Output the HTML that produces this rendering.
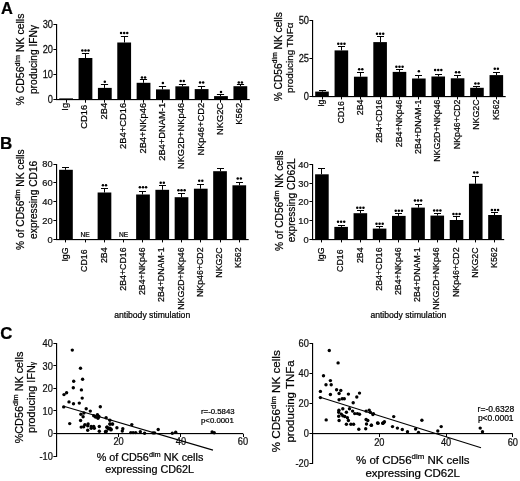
<!DOCTYPE html><html><head><meta charset="utf-8"><style>html,body{margin:0;padding:0;background:#fff;}svg{display:block;filter:grayscale(1) blur(0.35px);} text{stroke:#000;stroke-width:0.22px;}</style></head><body><svg width="520" height="481" viewBox="0 0 520 481" style="font-family:'Liberation Sans',sans-serif" fill="#000"><rect width="520" height="481" fill="#fff"/><text x="0.9" y="14.0" font-size="16.4" font-weight="bold">A</text><text x="0.1" y="148.8" font-size="17" font-weight="bold">B</text><text x="0.3" y="338.8" font-size="16.8" font-weight="bold">C</text><rect x="59.2" y="98.4" width="13.8" height="1.1"/><rect x="66" y="99.5" width="1" height="3.2"/><rect x="78.56" y="58" width="13.8" height="41.5"/><rect x="85" y="53" width="1" height="5"/><rect x="81.9" y="53" width="7.2" height="1"/><circle cx="82.36" cy="50.4" r="1.25"/><circle cx="85.46" cy="50.4" r="1.25"/><circle cx="88.56" cy="50.4" r="1.25"/><rect x="85" y="99.5" width="1" height="3.2"/><rect x="97.92" y="87.9" width="13.8" height="11.6"/><rect x="104" y="84" width="1" height="3.9"/><rect x="100.9" y="84" width="7.2" height="1"/><circle cx="104.82" cy="81.7" r="1.25"/><rect x="104" y="99.5" width="1" height="3.2"/><rect x="117.28" y="42.5" width="13.8" height="57"/><rect x="124" y="36" width="1" height="6.5"/><rect x="120.9" y="36" width="7.2" height="1"/><circle cx="121.08" cy="33.1" r="1.25"/><circle cx="124.18" cy="33.1" r="1.25"/><circle cx="127.28" cy="33.1" r="1.25"/><rect x="124" y="99.5" width="1" height="3.2"/><rect x="136.64" y="82.8" width="13.8" height="16.7"/><rect x="143" y="79" width="1" height="3.8"/><rect x="139.9" y="79" width="7.2" height="1"/><circle cx="141.99" cy="77.6" r="1.25"/><circle cx="145.09" cy="77.6" r="1.25"/><rect x="143" y="99.5" width="1" height="3.2"/><rect x="156" y="89.4" width="13.8" height="10.1"/><rect x="162" y="86" width="1" height="3.4"/><rect x="158.9" y="86" width="7.2" height="1"/><circle cx="162.9" cy="83.1" r="1.25"/><rect x="162" y="99.5" width="1" height="3.2"/><rect x="175.36" y="86.3" width="13.8" height="13.2"/><rect x="182" y="84" width="1" height="2.3"/><rect x="178.9" y="84" width="7.2" height="1"/><circle cx="180.71" cy="81" r="1.25"/><circle cx="183.81" cy="81" r="1.25"/><rect x="182" y="99.5" width="1" height="3.2"/><rect x="194.72" y="89.1" width="13.8" height="10.4"/><rect x="201" y="86" width="1" height="3.1"/><rect x="197.9" y="86" width="7.2" height="1"/><circle cx="200.07" cy="82.5" r="1.25"/><circle cx="203.17" cy="82.5" r="1.25"/><rect x="201" y="99.5" width="1" height="3.2"/><rect x="214.08" y="96.1" width="13.8" height="3.4"/><rect x="220" y="94" width="1" height="2.1"/><rect x="216.9" y="94" width="7.2" height="1"/><circle cx="220.98" cy="92" r="1.25"/><rect x="220" y="99.5" width="1" height="3.2"/><rect x="233.44" y="86.2" width="13.8" height="13.3"/><rect x="240" y="84" width="1" height="2.2"/><rect x="236.9" y="84" width="7.2" height="1"/><circle cx="238.79" cy="82.6" r="1.25"/><circle cx="241.89" cy="82.6" r="1.25"/><rect x="240" y="99.5" width="1" height="3.2"/><rect x="56" y="24" width="1.15" height="76"/><rect x="56" y="99" width="193.7" height="1.15"/><rect x="53.4" y="99" width="3" height="1"/><text transform="translate(53,103.32) scale(1,1.14)" text-anchor="end" font-size="9.3" fill="#1a1a1a">0</text><rect x="53.4" y="74" width="3" height="1"/><text transform="translate(53,78.22) scale(1,1.14)" text-anchor="end" font-size="9.3" fill="#1a1a1a">10</text><rect x="53.4" y="49" width="3" height="1"/><text transform="translate(53,53.12) scale(1,1.14)" text-anchor="end" font-size="9.3" fill="#1a1a1a">20</text><rect x="53.4" y="24" width="3" height="1"/><text transform="translate(53,27.82) scale(1,1.14)" text-anchor="end" font-size="9.3" fill="#1a1a1a">30</text><text transform="translate(68.07,102.9) rotate(-90)" text-anchor="end" font-size="9.35">Ig</text><text transform="translate(87.43,104.8) rotate(-90)" text-anchor="end" font-size="9.35">CD16</text><text transform="translate(106.79,102.9) rotate(-90)" text-anchor="end" font-size="9.35">2B4</text><text transform="translate(126.15,102.9) rotate(-90)" text-anchor="end" font-size="9.35">2B4+CD16</text><text transform="translate(145.51,102.9) rotate(-90)" text-anchor="end" font-size="9.35">2B4+NKp46</text><text transform="translate(164.87,102.9) rotate(-90)" text-anchor="end" font-size="9.35">2B4+DNAM-1</text><text transform="translate(184.23,102.9) rotate(-90)" text-anchor="end" font-size="9.35">NKG2D+NKp46</text><text transform="translate(203.59,102.9) rotate(-90)" text-anchor="end" font-size="9.35">NKp46+CD2</text><text transform="translate(222.95,102.9) rotate(-90)" text-anchor="end" font-size="9.35">NKG2C</text><text transform="translate(242.31,102.9) rotate(-90)" text-anchor="end" font-size="9.35">K562</text><rect x="315.2" y="91.6" width="13.6" height="4.8"/><rect x="322" y="90" width="1" height="1.6"/><rect x="319" y="90" width="7" height="1"/><rect x="322" y="96.4" width="1" height="3"/><rect x="334.57" y="50.4" width="13.6" height="46"/><rect x="341" y="46" width="1" height="4.4"/><rect x="338" y="46" width="7" height="1"/><circle cx="338.27" cy="43.7" r="1.25"/><circle cx="341.37" cy="43.7" r="1.25"/><circle cx="344.47" cy="43.7" r="1.25"/><rect x="341" y="96.4" width="1" height="3"/><rect x="353.94" y="76.7" width="13.6" height="19.7"/><rect x="360" y="72" width="1" height="4.7"/><rect x="357" y="72" width="7" height="1"/><circle cx="359.19" cy="69.2" r="1.25"/><circle cx="362.29" cy="69.2" r="1.25"/><rect x="360" y="96.4" width="1" height="3"/><rect x="373.31" y="42.1" width="13.6" height="54.3"/><rect x="380" y="36" width="1" height="6.1"/><rect x="377" y="36" width="7" height="1"/><circle cx="377.01" cy="33.7" r="1.25"/><circle cx="380.11" cy="33.7" r="1.25"/><circle cx="383.21" cy="33.7" r="1.25"/><rect x="380" y="96.4" width="1" height="3"/><rect x="392.68" y="71.9" width="13.6" height="24.5"/><rect x="399" y="69" width="1" height="2.9"/><rect x="396" y="69" width="7" height="1"/><circle cx="396.38" cy="66.7" r="1.25"/><circle cx="399.48" cy="66.7" r="1.25"/><circle cx="402.58" cy="66.7" r="1.25"/><rect x="399" y="96.4" width="1" height="3"/><rect x="412.05" y="78.5" width="13.6" height="17.9"/><rect x="418" y="75" width="1" height="3.5"/><rect x="415" y="75" width="7" height="1"/><circle cx="418.85" cy="71.2" r="1.25"/><rect x="418" y="96.4" width="1" height="3"/><rect x="431.42" y="76.5" width="13.6" height="19.9"/><rect x="438" y="74" width="1" height="2.5"/><rect x="435" y="74" width="7" height="1"/><circle cx="435.12" cy="70" r="1.25"/><circle cx="438.22" cy="70" r="1.25"/><circle cx="441.32" cy="70" r="1.25"/><rect x="438" y="96.4" width="1" height="3"/><rect x="450.79" y="78.3" width="13.6" height="18.1"/><rect x="457" y="75" width="1" height="3.3"/><rect x="454" y="75" width="7" height="1"/><circle cx="456.04" cy="72.3" r="1.25"/><circle cx="459.14" cy="72.3" r="1.25"/><rect x="457" y="96.4" width="1" height="3"/><rect x="470.16" y="87.8" width="13.6" height="8.6"/><rect x="476" y="86" width="1" height="1.8"/><rect x="473" y="86" width="7" height="1"/><circle cx="475.41" cy="83.4" r="1.25"/><circle cx="478.51" cy="83.4" r="1.25"/><rect x="476" y="96.4" width="1" height="3"/><rect x="489.53" y="75.1" width="13.6" height="21.3"/><rect x="496" y="72" width="1" height="3.1"/><rect x="493" y="72" width="7" height="1"/><circle cx="494.78" cy="68.8" r="1.25"/><circle cx="497.88" cy="68.8" r="1.25"/><rect x="496" y="96.4" width="1" height="3"/><rect x="312" y="20" width="1.15" height="77"/><rect x="312" y="96" width="193.7" height="1.15"/><rect x="309.4" y="96" width="3" height="1"/><text transform="translate(309,100.22) scale(1,1.14)" text-anchor="end" font-size="9.3" fill="#1a1a1a">0</text><rect x="309.4" y="58" width="3" height="1"/><text transform="translate(309,62.27) scale(1,1.14)" text-anchor="end" font-size="9.3" fill="#1a1a1a">25</text><rect x="309.4" y="20" width="3" height="1"/><text transform="translate(309,24.32) scale(1,1.14)" text-anchor="end" font-size="9.3" fill="#1a1a1a">50</text><text transform="translate(324.17,99.5) rotate(-90)" text-anchor="end" font-size="8.8">Ig</text><text transform="translate(343.54,101.1) rotate(-90)" text-anchor="end" font-size="8.8">CD16</text><text transform="translate(362.91,99.5) rotate(-90)" text-anchor="end" font-size="8.8">2B4</text><text transform="translate(382.28,99.5) rotate(-90)" text-anchor="end" font-size="8.8">2B4+CD16</text><text transform="translate(401.65,99.5) rotate(-90)" text-anchor="end" font-size="8.8">2B4+NKp46</text><text transform="translate(421.02,99.5) rotate(-90)" text-anchor="end" font-size="8.8">2B4+DNAM-1</text><text transform="translate(440.39,99.5) rotate(-90)" text-anchor="end" font-size="8.8">NKG2D+NKp46</text><text transform="translate(459.76,99.5) rotate(-90)" text-anchor="end" font-size="8.8">NKp46+CD2</text><text transform="translate(479.13,99.5) rotate(-90)" text-anchor="end" font-size="8.8">NKG2C</text><text transform="translate(498.5,99.5) rotate(-90)" text-anchor="end" font-size="8.8">K562</text><rect x="59.1" y="169.8" width="13.7" height="69.6"/><rect x="65" y="167" width="1" height="2.8"/><rect x="62" y="167" width="7" height="1"/><rect x="65" y="239.4" width="1" height="3"/><rect x="85" y="239.4" width="1" height="3"/><rect x="97.62" y="192.5" width="13.7" height="46.9"/><rect x="104" y="188" width="1" height="4.5"/><rect x="101" y="188" width="7" height="1"/><circle cx="102.92" cy="185.2" r="1.25"/><circle cx="106.02" cy="185.2" r="1.25"/><rect x="104" y="239.4" width="1" height="3"/><rect x="123" y="239.4" width="1" height="3"/><rect x="136.14" y="194.5" width="13.7" height="44.9"/><rect x="142" y="191" width="1" height="3.5"/><rect x="139" y="191" width="7" height="1"/><circle cx="139.89" cy="187.2" r="1.25"/><circle cx="142.99" cy="187.2" r="1.25"/><circle cx="146.09" cy="187.2" r="1.25"/><rect x="142" y="239.4" width="1" height="3"/><rect x="155.4" y="189.8" width="13.7" height="49.6"/><rect x="162" y="185" width="1" height="4.8"/><rect x="159" y="185" width="7" height="1"/><circle cx="160.7" cy="182.8" r="1.25"/><circle cx="163.8" cy="182.8" r="1.25"/><rect x="162" y="239.4" width="1" height="3"/><rect x="174.66" y="197.2" width="13.7" height="42.2"/><rect x="181" y="193" width="1" height="4.2"/><rect x="178" y="193" width="7" height="1"/><circle cx="178.41" cy="190.2" r="1.25"/><circle cx="181.51" cy="190.2" r="1.25"/><circle cx="184.61" cy="190.2" r="1.25"/><rect x="181" y="239.4" width="1" height="3"/><rect x="193.92" y="188.7" width="13.7" height="50.7"/><rect x="200" y="184" width="1" height="4.7"/><rect x="197" y="184" width="7" height="1"/><circle cx="199.22" cy="180.7" r="1.25"/><circle cx="202.32" cy="180.7" r="1.25"/><rect x="200" y="239.4" width="1" height="3"/><rect x="213.18" y="171.2" width="13.7" height="68.2"/><rect x="220" y="168" width="1" height="3.2"/><rect x="217" y="168" width="7" height="1"/><rect x="220" y="239.4" width="1" height="3"/><rect x="232.44" y="185.3" width="13.7" height="54.1"/><rect x="239" y="182" width="1" height="3.3"/><rect x="236" y="182" width="7" height="1"/><circle cx="237.74" cy="178.6" r="1.25"/><circle cx="240.84" cy="178.6" r="1.25"/><rect x="239" y="239.4" width="1" height="3"/><rect x="56" y="164" width="1.15" height="76"/><rect x="56" y="239" width="192.7" height="1.15"/><rect x="53.4" y="239" width="3" height="1"/><text transform="translate(52.7,242.75) scale(1,1)" text-anchor="end" font-size="9.3" fill="#1a1a1a">0</text><rect x="53.4" y="220" width="3" height="1"/><text transform="translate(52.7,223.9) scale(1,1)" text-anchor="end" font-size="9.3" fill="#1a1a1a">20</text><rect x="53.4" y="201" width="3" height="1"/><text transform="translate(52.7,205.05) scale(1,1)" text-anchor="end" font-size="9.3" fill="#1a1a1a">40</text><rect x="53.4" y="182" width="3" height="1"/><text transform="translate(52.7,186.2) scale(1,1)" text-anchor="end" font-size="9.3" fill="#1a1a1a">60</text><rect x="53.4" y="164" width="3" height="1"/><text transform="translate(52.7,167.35) scale(1,1)" text-anchor="end" font-size="9.3" fill="#1a1a1a">80</text><text transform="translate(68.12,247.4) rotate(-90)" text-anchor="end" font-size="8.8">IgG</text><text transform="translate(87.38,249.4) rotate(-90)" text-anchor="end" font-size="8.8">CD16</text><text transform="translate(106.64,247.4) rotate(-90)" text-anchor="end" font-size="8.8">2B4</text><text transform="translate(125.9,247.4) rotate(-90)" text-anchor="end" font-size="8.8">2B4+CD16</text><text transform="translate(145.16,247.4) rotate(-90)" text-anchor="end" font-size="8.8">2B4+NKp46</text><text transform="translate(164.42,247.4) rotate(-90)" text-anchor="end" font-size="8.8">2B4+DNAM-1</text><text transform="translate(183.68,247.4) rotate(-90)" text-anchor="end" font-size="8.8">NKG2D+NKp46</text><text transform="translate(202.94,247.4) rotate(-90)" text-anchor="end" font-size="8.8">NKp46+CD2</text><text transform="translate(222.2,247.4) rotate(-90)" text-anchor="end" font-size="8.8">NKG2C</text><text transform="translate(241.46,247.4) rotate(-90)" text-anchor="end" font-size="8.8">K562</text><rect x="315.1" y="174.3" width="13.6" height="65.1"/><rect x="321" y="168" width="1" height="6.3"/><rect x="318" y="168" width="7" height="1"/><rect x="321" y="239.4" width="1" height="3"/><rect x="334.33" y="226.9" width="13.6" height="12.5"/><rect x="341" y="225" width="1" height="1.9"/><rect x="338" y="225" width="7" height="1"/><circle cx="338.03" cy="221.7" r="1.25"/><circle cx="341.13" cy="221.7" r="1.25"/><circle cx="344.23" cy="221.7" r="1.25"/><rect x="341" y="239.4" width="1" height="3"/><rect x="353.56" y="213.2" width="13.6" height="26.2"/><rect x="360" y="210" width="1" height="3.2"/><rect x="357" y="210" width="7" height="1"/><circle cx="357.26" cy="207.8" r="1.25"/><circle cx="360.36" cy="207.8" r="1.25"/><circle cx="363.46" cy="207.8" r="1.25"/><rect x="360" y="239.4" width="1" height="3"/><rect x="372.79" y="228.6" width="13.6" height="10.8"/><rect x="379" y="226" width="1" height="2.6"/><rect x="376" y="226" width="7" height="1"/><circle cx="376.49" cy="223.8" r="1.25"/><circle cx="379.59" cy="223.8" r="1.25"/><circle cx="382.69" cy="223.8" r="1.25"/><rect x="379" y="239.4" width="1" height="3"/><rect x="392.02" y="215.9" width="13.6" height="23.5"/><rect x="398" y="213" width="1" height="2.9"/><rect x="395" y="213" width="7" height="1"/><circle cx="395.72" cy="210.7" r="1.25"/><circle cx="398.82" cy="210.7" r="1.25"/><circle cx="401.92" cy="210.7" r="1.25"/><rect x="398" y="239.4" width="1" height="3"/><rect x="411.25" y="207.6" width="13.6" height="31.8"/><rect x="418" y="204" width="1" height="3.6"/><rect x="415" y="204" width="7" height="1"/><circle cx="414.95" cy="200.5" r="1.25"/><circle cx="418.05" cy="200.5" r="1.25"/><circle cx="421.15" cy="200.5" r="1.25"/><rect x="418" y="239.4" width="1" height="3"/><rect x="430.48" y="215.6" width="13.6" height="23.8"/><rect x="437" y="213" width="1" height="2.6"/><rect x="434" y="213" width="7" height="1"/><circle cx="434.18" cy="210.5" r="1.25"/><circle cx="437.28" cy="210.5" r="1.25"/><circle cx="440.38" cy="210.5" r="1.25"/><rect x="437" y="239.4" width="1" height="3"/><rect x="449.71" y="220" width="13.6" height="19.4"/><rect x="456" y="216" width="1" height="4"/><rect x="453" y="216" width="7" height="1"/><circle cx="453.41" cy="214" r="1.25"/><circle cx="456.51" cy="214" r="1.25"/><circle cx="459.61" cy="214" r="1.25"/><rect x="456" y="239.4" width="1" height="3"/><rect x="468.94" y="183.7" width="13.6" height="55.7"/><rect x="475" y="176" width="1" height="7.7"/><rect x="472" y="176" width="7" height="1"/><circle cx="474.19" cy="172.5" r="1.25"/><circle cx="477.29" cy="172.5" r="1.25"/><rect x="475" y="239.4" width="1" height="3"/><rect x="488.17" y="215" width="13.6" height="24.4"/><rect x="494" y="212" width="1" height="3"/><rect x="491" y="212" width="7" height="1"/><circle cx="491.87" cy="209.9" r="1.25"/><circle cx="494.97" cy="209.9" r="1.25"/><circle cx="498.07" cy="209.9" r="1.25"/><rect x="494" y="239.4" width="1" height="3"/><rect x="312" y="164" width="1.15" height="76"/><rect x="312" y="239" width="192.2" height="1.15"/><rect x="309.4" y="239" width="3" height="1"/><text transform="translate(308.6,242.75) scale(1,1)" text-anchor="end" font-size="9.3" fill="#1a1a1a">0</text><rect x="309.4" y="220" width="3" height="1"/><text transform="translate(308.6,224) scale(1,1)" text-anchor="end" font-size="9.3" fill="#1a1a1a">10</text><rect x="309.4" y="201" width="3" height="1"/><text transform="translate(308.6,205.25) scale(1,1)" text-anchor="end" font-size="9.3" fill="#1a1a1a">20</text><rect x="309.4" y="183" width="3" height="1"/><text transform="translate(308.6,186.5) scale(1,1)" text-anchor="end" font-size="9.3" fill="#1a1a1a">30</text><rect x="309.4" y="164" width="3" height="1"/><text transform="translate(308.6,167.75) scale(1,1)" text-anchor="end" font-size="9.3" fill="#1a1a1a">40</text><text transform="translate(324.07,247.4) rotate(-90)" text-anchor="end" font-size="8.8">IgG</text><text transform="translate(343.3,249.4) rotate(-90)" text-anchor="end" font-size="8.8">CD16</text><text transform="translate(362.53,247.4) rotate(-90)" text-anchor="end" font-size="8.8">2B4</text><text transform="translate(381.76,247.4) rotate(-90)" text-anchor="end" font-size="8.8">2B4+CD16</text><text transform="translate(400.99,247.4) rotate(-90)" text-anchor="end" font-size="8.8">2B4+NKp46</text><text transform="translate(420.22,247.4) rotate(-90)" text-anchor="end" font-size="8.8">2B4+DNAM-1</text><text transform="translate(439.45,247.4) rotate(-90)" text-anchor="end" font-size="8.8">NKG2D+NKp46</text><text transform="translate(458.68,247.4) rotate(-90)" text-anchor="end" font-size="8.8">NKp46+CD2</text><text transform="translate(477.91,247.4) rotate(-90)" text-anchor="end" font-size="8.8">NKG2C</text><text transform="translate(497.14,247.4) rotate(-90)" text-anchor="end" font-size="8.8">K562</text><text x="85.2" y="237.2" text-anchor="middle" font-size="6.6">NE</text><text x="123.7" y="237.2" text-anchor="middle" font-size="6.6">NE</text><text x="152.2" y="318.2" text-anchor="middle" font-size="8.6">antibody stimulation</text><text x="408.4" y="318.0" text-anchor="middle" font-size="8.6">antibody stimulation</text><text transform="translate(24.2,59.6) rotate(-90)" text-anchor="middle" font-size="10.5">% CD56<tspan font-size="7.14" dy="-4.41">dim</tspan><tspan dy="4.41"> NK cells</tspan></text><text transform="translate(37,59.5) rotate(-90)" text-anchor="middle" font-size="10.2">producing IFN&#947;</text><text transform="translate(281.5,56.7) rotate(-90)" text-anchor="middle" font-size="10.2">% CD56<tspan font-size="6.94" dy="-4.28">dim</tspan><tspan dy="4.28"> NK cells</tspan></text><text transform="translate(293.2,57.8) rotate(-90)" text-anchor="middle" font-size="9.8">producing TNF&#945;</text><text transform="translate(24.2,199.6) rotate(-90)" text-anchor="middle" font-size="10.2">% of CD56<tspan font-size="6.94" dy="-4.28">dim</tspan><tspan dy="4.28"> NK cells</tspan></text><text transform="translate(36.7,199.8) rotate(-90)" text-anchor="middle" font-size="10.2">expressing CD16</text><text transform="translate(283.1,200.7) rotate(-90)" text-anchor="middle" font-size="10.2">% of CD56<tspan font-size="6.94" dy="-4.28">dim</tspan><tspan dy="4.28"> NK cells</tspan></text><text transform="translate(295.3,200.3) rotate(-90)" text-anchor="middle" font-size="10.2">expressing CD62L</text><text transform="translate(22.5,397.5) rotate(-90)" text-anchor="middle" font-size="10.8">%CD56<tspan font-size="7.34" dy="-4.54">dim</tspan><tspan dy="4.54"> NK cells</tspan></text><text transform="translate(34.5,397.5) rotate(-90)" text-anchor="middle" font-size="10.8">producing IFN<tspan font-size="62%">&#947;</tspan></text><text transform="translate(280.4,401.3) rotate(-90)" text-anchor="middle" font-size="11.65">% CD56<tspan font-size="7.92" dy="-4.89">dim</tspan><tspan dy="4.89"> NK cells</tspan></text><text transform="translate(293.8,401.4) rotate(-90)" text-anchor="middle" font-size="11.5">producing TNFa</text><rect x="56" y="343" width="1.15" height="114"/><rect x="56" y="433" width="187.3" height="1.15"/><rect x="53.4" y="343" width="3" height="1"/><text transform="translate(52.9,347.05) scale(1,1.12)" text-anchor="end" font-size="9.3" fill="#1a1a1a">40</text><rect x="53.4" y="365" width="3" height="1"/><text transform="translate(52.9,369.55) scale(1,1.12)" text-anchor="end" font-size="9.3" fill="#1a1a1a">30</text><rect x="53.4" y="388" width="3" height="1"/><text transform="translate(52.9,392.15) scale(1,1.12)" text-anchor="end" font-size="9.3" fill="#1a1a1a">20</text><rect x="53.4" y="410" width="3" height="1"/><text transform="translate(52.9,414.65) scale(1,1.12)" text-anchor="end" font-size="9.3" fill="#1a1a1a">10</text><rect x="53.4" y="433" width="3" height="1"/><text transform="translate(52.9,437.15) scale(1,1.12)" text-anchor="end" font-size="9.3" fill="#1a1a1a">0</text><rect x="53.4" y="456" width="3" height="1"/><text transform="translate(52.9,459.75) scale(1,1.12)" text-anchor="end" font-size="9.3" fill="#1a1a1a">-10</text><rect x="118" y="434" width="1" height="3"/><text transform="translate(118.6,445.4) scale(1,1.12)" text-anchor="middle" font-size="9.3" fill="#1a1a1a">20</text><rect x="180" y="434" width="1" height="3"/><text transform="translate(180.9,445.4) scale(1,1.12)" text-anchor="middle" font-size="9.3" fill="#1a1a1a">40</text><rect x="243" y="434" width="1" height="3"/><text transform="translate(243,445.4) scale(1,1.12)" text-anchor="middle" font-size="9.3" fill="#1a1a1a">60</text><circle cx="72.3" cy="350.1" r="1.7"/><circle cx="80.5" cy="368.3" r="1.7"/><circle cx="82.6" cy="379.2" r="1.7"/><circle cx="73.7" cy="381.3" r="1.7"/><circle cx="73.3" cy="387.8" r="1.7"/><circle cx="81.4" cy="389.9" r="1.7"/><circle cx="66.6" cy="392.8" r="1.7"/><circle cx="64" cy="394.6" r="1.7"/><circle cx="82.2" cy="398.1" r="1.7"/><circle cx="69" cy="401.9" r="1.7"/><circle cx="73.5" cy="403.8" r="1.7"/><circle cx="79.3" cy="403.1" r="1.7"/><circle cx="63.7" cy="406.9" r="1.7"/><circle cx="100.3" cy="406.7" r="1.7"/><circle cx="86.2" cy="408.7" r="1.7"/><circle cx="90.3" cy="411.1" r="1.7"/><circle cx="80.9" cy="414.2" r="1.7"/><circle cx="83.9" cy="413" r="1.7"/><circle cx="83.1" cy="416.7" r="1.7"/><circle cx="93.7" cy="415.8" r="1.7"/><circle cx="97.4" cy="414.6" r="1.7"/><circle cx="95.5" cy="417.1" r="1.7"/><circle cx="98" cy="418.3" r="1.7"/><circle cx="98.9" cy="416.5" r="1.7"/><circle cx="80.6" cy="420.5" r="1.7"/><circle cx="106.1" cy="417.7" r="1.7"/><circle cx="109.9" cy="420.2" r="1.7"/><circle cx="69.7" cy="423.6" r="1.7"/><circle cx="84.9" cy="424.6" r="1.7"/><circle cx="88.1" cy="424" r="1.7"/><circle cx="87.7" cy="425.8" r="1.7"/><circle cx="81.2" cy="427.1" r="1.7"/><circle cx="83.7" cy="426.7" r="1.7"/><circle cx="91.2" cy="426.5" r="1.7"/><circle cx="93.7" cy="426.5" r="1.7"/><circle cx="99.3" cy="426.5" r="1.7"/><circle cx="91.2" cy="428.3" r="1.7"/><circle cx="94.3" cy="428.3" r="1.7"/><circle cx="87.7" cy="430.2" r="1.7"/><circle cx="99.3" cy="431.2" r="1.7"/><circle cx="106.1" cy="431.4" r="1.7"/><circle cx="107.1" cy="427.1" r="1.7"/><circle cx="109.9" cy="428.3" r="1.7"/><circle cx="110.9" cy="429.9" r="1.7"/><circle cx="112.4" cy="424" r="1.7"/><circle cx="109.9" cy="424" r="1.7"/><circle cx="110" cy="424.1" r="1.7"/><circle cx="112.6" cy="424.1" r="1.7"/><circle cx="106.9" cy="427.2" r="1.7"/><circle cx="108.5" cy="428.8" r="1.7"/><circle cx="111.1" cy="429.2" r="1.7"/><circle cx="116.9" cy="427.7" r="1.7"/><circle cx="122.8" cy="428.8" r="1.7"/><circle cx="122.3" cy="431.1" r="1.7"/><circle cx="106.2" cy="431.1" r="1.7"/><circle cx="105.4" cy="431.8" r="1.7"/><circle cx="131.8" cy="424.6" r="1.7"/><circle cx="130.8" cy="432.6" r="1.7"/><circle cx="133.1" cy="432.6" r="1.7"/><circle cx="135.7" cy="432.6" r="1.7"/><circle cx="140.3" cy="431.8" r="1.7"/><circle cx="144.6" cy="433.3" r="1.7"/><circle cx="153.1" cy="432.9" r="1.7"/><circle cx="154.6" cy="432.9" r="1.7"/><circle cx="158.2" cy="429.5" r="1.7"/><circle cx="172.3" cy="433.3" r="1.7"/><circle cx="175.7" cy="432.3" r="1.7"/><circle cx="212.1" cy="432" r="1.7"/><circle cx="214.2" cy="432.8" r="1.7"/><line x1="63.7" y1="406.3" x2="213" y2="450.1" stroke="#000" stroke-width="1.1"/><text x="201" y="414" font-size="7.8">r=-0.5843</text><text x="201" y="423.1" font-size="7.8">p&lt;0.0001</text><rect x="312" y="343" width="1.15" height="121"/><rect x="312" y="433" width="200.8" height="1.15"/><rect x="309.4" y="343" width="3" height="1"/><text transform="translate(308.8,346.85) scale(1,1.12)" text-anchor="end" font-size="9.3" fill="#1a1a1a">60</text><rect x="309.4" y="373" width="3" height="1"/><text transform="translate(308.8,376.95) scale(1,1.12)" text-anchor="end" font-size="9.3" fill="#1a1a1a">40</text><rect x="309.4" y="403" width="3" height="1"/><text transform="translate(308.8,407.05) scale(1,1.12)" text-anchor="end" font-size="9.3" fill="#1a1a1a">20</text><rect x="309.4" y="433" width="3" height="1"/><text transform="translate(308.8,437.15) scale(1,1.12)" text-anchor="end" font-size="9.3" fill="#1a1a1a">0</text><rect x="309.4" y="463" width="3" height="1"/><text transform="translate(308.8,467.35) scale(1,1.12)" text-anchor="end" font-size="9.3" fill="#1a1a1a">-20</text><rect x="379" y="434" width="1" height="3"/><text transform="translate(379.3,446) scale(1,1.12)" text-anchor="middle" font-size="9.3" fill="#1a1a1a">20</text><rect x="446" y="434" width="1" height="3"/><text transform="translate(446.1,446) scale(1,1.12)" text-anchor="middle" font-size="9.3" fill="#1a1a1a">40</text><rect x="512" y="434" width="1" height="3"/><text transform="translate(512.8,446) scale(1,1.12)" text-anchor="middle" font-size="9.3" fill="#1a1a1a">60</text><circle cx="329.3" cy="350.5" r="1.7"/><circle cx="338.1" cy="362.9" r="1.7"/><circle cx="323.5" cy="375.8" r="1.7"/><circle cx="330.4" cy="380.6" r="1.7"/><circle cx="326" cy="384.8" r="1.7"/><circle cx="331.2" cy="384.8" r="1.7"/><circle cx="320.4" cy="391.4" r="1.7"/><circle cx="330.4" cy="394.5" r="1.7"/><circle cx="336.6" cy="389.7" r="1.7"/><circle cx="340.8" cy="390.4" r="1.7"/><circle cx="339.1" cy="393.5" r="1.7"/><circle cx="359.5" cy="393.1" r="1.7"/><circle cx="348.4" cy="394.1" r="1.7"/><circle cx="356.8" cy="397" r="1.7"/><circle cx="320.4" cy="397.6" r="1.7"/><circle cx="339.1" cy="399.7" r="1.7"/><circle cx="342.2" cy="398.7" r="1.7"/><circle cx="344.3" cy="398.7" r="1.7"/><circle cx="353.2" cy="402.8" r="1.7"/><circle cx="342.8" cy="408.7" r="1.7"/><circle cx="349.5" cy="408.7" r="1.7"/><circle cx="352.6" cy="411.1" r="1.7"/><circle cx="338.7" cy="412.2" r="1.7"/><circle cx="346.4" cy="412.2" r="1.7"/><circle cx="354.7" cy="413.6" r="1.7"/><circle cx="357.4" cy="413.6" r="1.7"/><circle cx="359.5" cy="414.3" r="1.7"/><circle cx="366.1" cy="411.1" r="1.7"/><circle cx="369.2" cy="410.1" r="1.7"/><circle cx="370.3" cy="412.2" r="1.7"/><circle cx="373.4" cy="413.6" r="1.7"/><circle cx="338.7" cy="416.3" r="1.7"/><circle cx="342.8" cy="415.7" r="1.7"/><circle cx="347.4" cy="417.8" r="1.7"/><circle cx="339.1" cy="420.5" r="1.7"/><circle cx="348.4" cy="420.5" r="1.7"/><circle cx="326.2" cy="419.9" r="1.7"/><circle cx="366.1" cy="419.5" r="1.7"/><circle cx="367.8" cy="420.5" r="1.7"/><circle cx="346.4" cy="424.2" r="1.7"/><circle cx="350.9" cy="424.2" r="1.7"/><circle cx="353.6" cy="424.2" r="1.7"/><circle cx="366.5" cy="424" r="1.7"/><circle cx="371.3" cy="425.3" r="1.7"/><circle cx="377.5" cy="423" r="1.7"/><circle cx="382.7" cy="423.2" r="1.7"/><circle cx="383.8" cy="422.6" r="1.7"/><circle cx="358.8" cy="429.2" r="1.7"/><circle cx="365.7" cy="428.8" r="1.7"/><circle cx="372.9" cy="414.5" r="1.7"/><circle cx="371.4" cy="425.2" r="1.7"/><circle cx="378.1" cy="423.2" r="1.7"/><circle cx="383" cy="423.2" r="1.7"/><circle cx="384.4" cy="421.7" r="1.7"/><circle cx="393.7" cy="416.6" r="1.7"/><circle cx="392.5" cy="426.6" r="1.7"/><circle cx="397.4" cy="428.1" r="1.7"/><circle cx="402.3" cy="429.5" r="1.7"/><circle cx="407.5" cy="431.8" r="1.7"/><circle cx="415.6" cy="429" r="1.7"/><circle cx="418.5" cy="432.4" r="1.7"/><circle cx="421.9" cy="420.3" r="1.7"/><circle cx="437.8" cy="431" r="1.7"/><circle cx="441.2" cy="426.6" r="1.7"/><circle cx="480.2" cy="428.1" r="1.7"/><circle cx="482.5" cy="431.8" r="1.7"/><circle cx="338.9" cy="410.3" r="1.7"/><circle cx="344.8" cy="416.5" r="1.7"/><circle cx="341.3" cy="414.1" r="1.7"/><line x1="319.4" y1="397.1" x2="481" y2="447.8" stroke="#000" stroke-width="1.1"/><text x="477.6" y="411.9" font-size="8.5">r=-0.6328</text><text x="477.9" y="421.3" font-size="8.5">p&lt;0.0001</text><text x="150" y="461.4" text-anchor="middle" font-size="10.8">% of CD56<tspan font-size="7.34" dy="-4.54">dim</tspan><tspan dy="4.54"> NK cells</tspan></text><text x="149.6" y="472.6" text-anchor="middle" font-size="10.8">expressing CD62L</text><text x="412.8" y="463.8" text-anchor="middle" font-size="11.5">% of CD56<tspan font-size="7.82" dy="-4.83">dim</tspan><tspan dy="4.83"> NK cells</tspan></text><text x="412.7" y="476.9" text-anchor="middle" font-size="11.5">expressing CD62L</text></svg></body></html>
